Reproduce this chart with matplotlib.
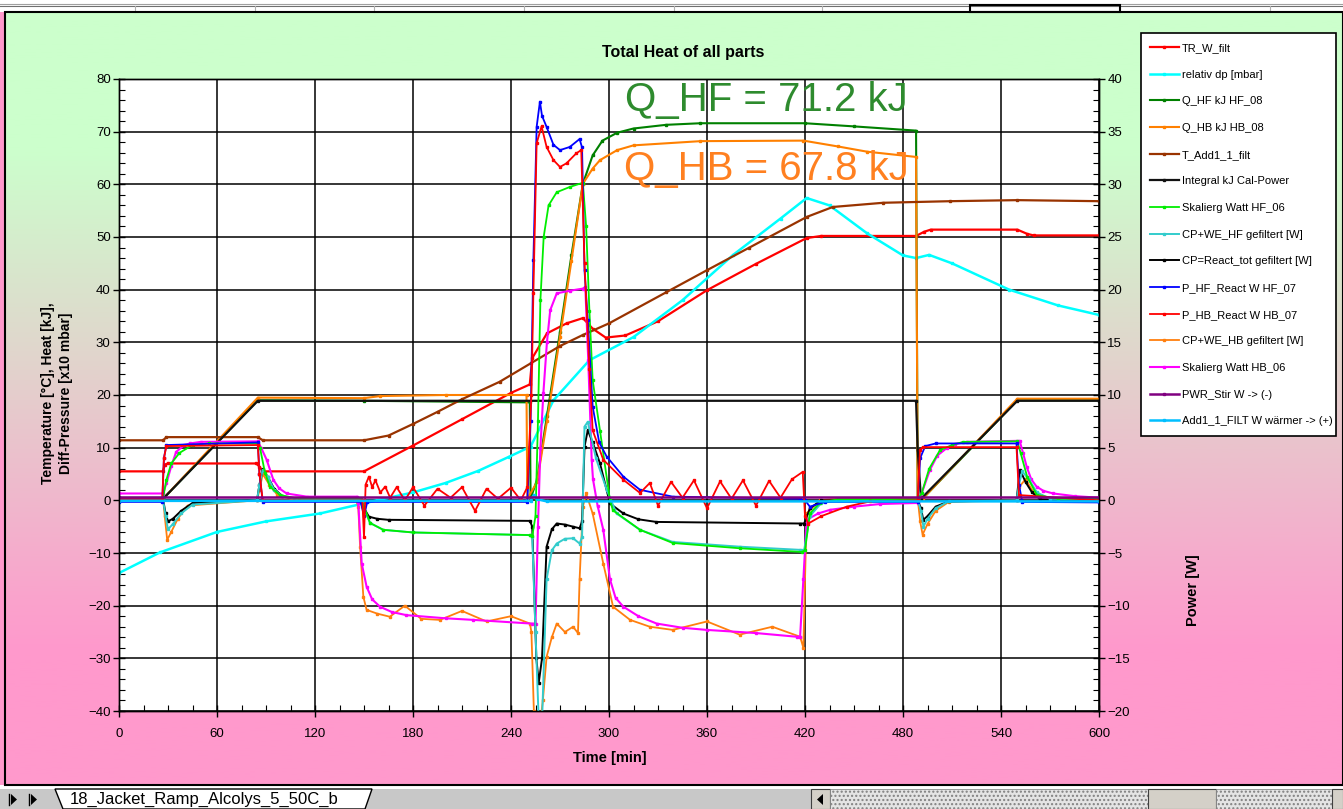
import numpy as np
import matplotlib.pyplot as plt
from matplotlib.patches import Rectangle, Polygon
from matplotlib.ticker import MultipleLocator

plt.rcParams['font.family'] = ['Liberation Sans', 'DejaVu Sans']

# ---- data: (time [min], value) ----
# left axis: temperature [C], heat [kJ], diff-pressure [x10 mbar]
tr_w_filt = [(0, 5.5), (27, 5.5), (28, 6.8), (30, 7.0), (84, 7.0), (86, 6.4), (88, 5.5), (150, 5.5),
             (180, 10.4), (210, 15.4), (240, 20.4), (251.5, 22.0), (253, 27.0), (262, 31.7), (274, 33.6),
             (284, 34.6), (290, 32.6), (298, 30.9), (310, 31.3), (330, 34.0), (360, 39.9), (390, 44.9),
             (421, 49.8), (430, 50.2), (488, 50.2), (493, 51.0), (497, 51.4), (550, 51.4), (556, 50.6),
             (560, 50.3), (600, 50.3)]
relativ_dp = [(0, -13.8), (25, -9.9), (60, -6.0), (90, -4.0), (123, -2.5), (158, 0.0), (180, 1.5),
              (200, 3.3), (220, 5.6), (239, 8.3), (252, 10.2), (266, 19.0), (288, 26.6), (315, 31.0),
              (345, 38.0), (376, 46.6), (405, 53.5), (421, 57.4), (435, 56.0), (458, 50.7), (480, 46.5),
              (488, 46.0), (496, 46.6), (510, 45.0), (545, 40.0), (575, 37.0), (600, 35.2)]
q_hf = [(0, 0.3), (27, 0.3), (85, 19.0), (150, 18.9), (251.5, 18.6), (252, 0.3), (256, 4), (262, 16),
        (270, 32), (277, 46.5), (284, 60.1), (290, 65.5), (296, 68.3), (305, 69.8), (315, 70.6),
        (335, 71.3), (356, 71.6), (420, 71.6), (450, 71.0), (488, 70.2), (489, 0.3), (492, 0.3),
        (550, 19.0), (600, 19.0)]
q_hb = [(0, 0.3), (27, 0.3), (85, 19.5), (150, 19.4), (160, 19.8), (200, 20.0), (249.5, 20.0), (250, 0.3),
        (256, 3.5), (262, 15), (270, 31), (277, 45.5), (284, 60.1), (290, 63.0), (294.5, 64.6),
        (305, 66.5), (315, 67.4), (356, 68.2), (419, 68.3), (440, 67.2), (458, 66.2), (488, 65.2),
        (489, 0.3), (492, 0.3), (550, 19.3), (600, 19.3)]
t_add1 = [(0, 11.4), (27, 11.4), (29, 12.0), (85, 12.0), (88, 11.4), (150, 11.4), (165, 12.3), (180, 14.5),
          (195, 16.8), (210, 19.2), (233, 22.5), (252, 26.0), (270, 29.3), (284, 31.4), (300, 33.6),
          (335, 39.5), (360, 43.7), (386, 48.0), (421, 53.8), (437, 55.7), (468, 56.5), (509, 56.8),
          (550, 57.0), (600, 56.8)]
integral_cal = [(0, 0.3), (27, 0.3), (85, 18.9), (488, 18.9), (489, 9.5), (491, 0.3), (550, 18.9), (600, 18.9)]

# right axis: power [W]
skal_hf = [(0, 0.25), (27, 0.25), (29, 1.95), (32, 3.5), (37, 4.5), (45, 5.25), (55, 5.4), (85, 5.4),
           (86.3, 5.0), (89.4, 2.6), (92.4, 1.3), (98.6, 0.5), (110, 0.15), (148, 0.15), (150, -0.6),
           (153.7, -2.15), (161.8, -2.8), (180, -3.05), (251.5, -3.3), (253, -3.4), (255, -1.5),
           (256.5, 7.5), (258, 19.0), (260, 25.0), (263, 28.0), (268, 29.25), (276, 29.75), (284, 30.15),
           (286, 26.0), (288, 18.0), (290, 11.4), (294.5, 6.6), (300.6, 0.0), (302.4, -0.95), (319, -2.8),
           (339, -4.05), (380, -4.55), (418, -4.9), (420, -4.75), (423, -1.25), (429, -0.25), (440, 0.1),
           (489, 0.1), (491.4, 0.65), (496, 3.0), (502.6, 4.75), (510, 5.25), (517, 5.55), (550, 5.6),
           (552, 4.5), (556, 2.25), (562, 0.5), (575, 0.15), (600, 0.15)]
cpwe_hf = [(0, 0), (27, 0), (28.5, -1.5), (30, -2.75), (33, -2.25), (38, -1.25), (45, -0.4), (84.5, 0),
           (86, 1.5), (88, 2.9), (91, 2.25), (95, 1.0), (100, 0.4), (110, 0.1), (148, 0.05), (149.5, -0.6),
           (153.7, -2.15), (161.8, -2.8), (180, -3.05), (251.6, -3.3), (253, -3.5), (255, -12.5),
           (257, -21), (259, -21), (261.8, -7.5), (265, -4.75), (268, -4.1), (273, -3.65), (278, -3.6),
           (282, -4.1), (283.5, -3.5), (285, 7.0), (287, 7.45), (292, 4.0), (298.6, 1.0), (304.6, -1.25),
           (319, -2.8), (339, -3.95), (380, -4.4), (417, -4.7), (419.5, -4.7), (423, -1.5), (430, -0.25),
           (440, 0), (489, 0), (491, -1.0), (492.5, -2.5), (495, -1.75), (500, -0.75), (508, -0.1),
           (549.5, 0), (551, 1.5), (553, 2.75), (557, 2.0), (562, 0.75), (570, 0.15), (600, 0.05)]
cp_react = [(0, 0.1), (27, 0.1), (28.5, -1.25), (30, -2.0), (33, -1.75), (38, -1.0), (45, -0.25), (84.5, 0),
            (86, 1.5), (88, 2.95), (91, 2.25), (95, 1.1), (100, 0.4), (110, 0.1), (148, 0.05), (149.5, -0.6),
            (153, -1.55), (158, -1.75), (165, -1.85), (251.6, -1.95), (253, -2.5), (255.5, -15.0),
            (257, -17.3), (259, -15.0), (261.8, -4.4), (265, -2.75), (268, -2.2), (273, -2.3), (278, -2.5),
            (282, -2.65), (283.5, -2.0), (285, 5.1), (287, 6.65), (290, 5.5), (294.5, 3.5), (300.6, -0.3),
            (308.8, -1.25), (318, -1.8), (329, -2.05), (417, -2.2), (419.5, -2.2), (423, -0.75), (430, 0),
            (489, 0), (491, -0.75), (492.4, -1.85), (495, -1.5), (500, -0.6), (508, -0.1), (549.5, 0),
            (551.6, 2.9), (555, 1.75), (559, 0.75), (564, 0.1), (600, 0.05)]
p_hf = [(0, -0.15), (26.5, -0.15), (27.5, 4.0), (29, 5.25), (85, 5.5), (86, 2.5), (88, -0.15), (148, -0.15),
        (150, -1.5), (152, -0.15), (250, -0.15), (252, 7.5), (253.7, 22.8), (255.7, 35.45), (257.7, 37.85),
        (259, 36.5), (261.8, 35.45), (266, 33.75), (270, 33.25), (276, 33.55), (282, 34.3), (283.5, 33.5),
        (285, 21.85), (287, 17.1), (290, 8.9), (294, 5.5), (298.6, 4.15), (308.8, 2.25), (319, 1.0),
        (339, 0.35), (417, 0.15), (420, 0), (423, -0.6), (432, -0.15), (489, -0.15), (490.5, 4.0),
        (493.6, 5.15), (500, 5.4), (549.5, 5.4), (551, 1.5), (553, -0.15), (600, -0.2)]
p_hb = [(0, 0.15), (26.5, 0.15), (27.5, 4.0), (29, 5.15), (85, 5.25), (86, 2.5), (88, 0), (149, 0),
        (150, -3.5), (151, 1.5), (153, 2.25), (155, 1.25), (157, 1.9), (160, 0.75), (163, 1.3), (166, 0.25),
        (170, 1.25), (175, 0), (180, 1.25), (187, -0.5), (195, 1.1), (203, 0.25), (210, 1.25), (218, -1.0),
        (225, 1.1), (232, 0.15), (240, 1.2), (246, 0), (250, 1.25), (252.5, 10.0), (253.7, 19.65),
        (255.7, 33.9), (258.7, 35.5), (261.8, 33.55), (266, 32.3), (270, 31.65), (274, 32.0), (280, 32.95),
        (283, 33.25), (285, 22.5), (288, 12.5), (290, 6.65), (296.5, 3.85), (308.8, 1.95), (319, 0.7),
        (325, 1.65), (330, -0.5), (338, 1.75), (345, 0.25), (352, 1.9), (360, -0.75), (368, 1.8),
        (375, 0.15), (382, 1.9), (390, -0.5), (398, 1.85), (405, 0.25), (412, 2.0), (418.6, 2.7),
        (420, -1.5), (422, -2.2), (430, -1.5), (445.5, -0.6), (460, -0.1), (489, 0), (490.4, 4.75),
        (492, 5.05), (549.5, 5.05), (551, 0.5), (600, 0)]
cpwe_hb = [(0, 0.15), (27, 0.15), (28, -1.5), (29.5, -3.75), (32, -3.0), (36, -1.75), (42, -0.5), (84.5, 0),
           (86, 1.0), (88, 2.5), (92, 1.5), (97, 0.5), (105, 0.15), (145, 0.1), (146.5, -0.6), (147.6, -4.4),
           (149.6, -9.15), (151.6, -10.4), (158, -10.75), (165.8, -11.05), (175, -10.0), (185, -11.25),
           (196.5, -11.35), (210, -10.5), (225, -11.5), (240, -11.0), (251.6, -11.7), (252.5, -12.5),
           (254, -20.0), (256, -21.0), (258, -21.0), (259.5, -19.0), (261.8, -14.85), (265, -13.0),
           (268, -11.7), (273, -12.5), (278, -12.0), (281, -12.6), (282, -7.5), (284, -0.6), (286, 0.65),
           (290, -1.25), (296.5, -6.0), (302.5, -10.1), (312.9, -11.35), (325, -12.0), (339, -12.3),
           (360, -11.5), (380, -12.75), (400, -12.0), (417, -12.95), (419, -14.0), (421, -1.25), (429, 0),
           (440, 0.15), (489, 0.15), (490.5, -2.0), (492, -3.25), (495, -2.25), (500, -1.0), (508, -0.15),
           (549.5, 0), (551, 1.25), (555, 2.0), (560, 0.75), (570, 0.15), (600, 0.1)]
skal_hb = [(0, 0.65), (27, 0.65), (29, 1.6), (32, 3.25), (35, 4.6), (40, 5.25), (43.5, 5.4), (50, 5.55),
           (85, 5.6), (87, 5.0), (90.4, 3.85), (94.5, 1.95), (98, 1.15), (102.6, 0.65), (115, 0.35),
           (146, 0.35), (146.5, -0.25), (148.6, -6.0), (151.6, -8.2), (155, -9.4), (159.8, -10.1),
           (167, -10.6), (176, -10.9), (200, -11.2), (217, -11.35), (252.6, -11.7), (255, -11.7),
           (256.5, -2.5), (258, 5.0), (259.8, 10.15), (262, 15.0), (264, 18.05), (268, 19.65), (276, 19.9),
           (284, 20.1), (285.5, 20.25), (287.3, 13.3), (289.4, 3.85), (290.2, 2.0), (293, -0.5),
           (296.5, -2.8), (300.6, -7.5), (304, -9.25), (308.8, -10.1), (318, -11.0), (329.2, -11.7),
           (345, -12.1), (359.8, -12.3), (390, -12.6), (414.9, -12.95), (417, -12.95), (419, -7.5),
           (421, -1.85), (428, -1.25), (435.4, -0.9), (450, -0.6), (466, -0.35), (489, -0.25), (491.4, 0.65),
           (496.5, 2.9), (501, 4.25), (506.7, 4.95), (512, 5.35), (519, 5.55), (551.4, 5.65), (553.5, 4.5),
           (555.7, 3.2), (558.5, 2.0), (561.8, 1.3), (566, 0.9), (572, 0.65), (585, 0.4), (600, 0.25)]
pwr_stir = [(0, 0.3), (600, 0.3)]
add1_filt = [(0, -0.05), (252, -0.05), (254, 0.5), (256, 0.1), (262, -0.1), (600, -0.1)]

W, H = 1343, 809


def fx(x):
    return x / W


def fy(y):
    return 1 - y / H


fig = plt.figure(figsize=(W / 100, H / 100), dpi=100)
fig.patch.set_facecolor('white')

# ---- window chrome / gradient background in pixel coordinates ----
bg = fig.add_axes([0, 0, 1, 1], zorder=-10)
green = np.array([204, 255, 204]) / 255
pink = np.array([255, 153, 204]) / 255
rows = np.linspace(12, 785, 300)
frac = np.clip((rows - 150) / 500, 0, 1)
grad = green[None, :] * (1 - frac[:, None]) + pink[None, :] * frac[:, None]
bg.imshow(grad[:, None, :], extent=[5, W, 785, 12], aspect='auto', zorder=0)
bg.set_xlim(0, W)
bg.set_ylim(H, 0)
bg.axis('off')

bg.add_patch(Rectangle((0, 0), W, 12, fc='white', ec='none', zorder=1))
bg.plot([0, W], [4, 4], color='#a0a0a0', lw=0.8, zorder=2)
bg.plot([0, W], [6, 6], color='#707070', lw=0.8, zorder=2)
for xs in [135, 255, 374, 524, 674, 822, 1270]:
    bg.plot([xs, xs], [6, 12], color='#b0b0b0', lw=0.8, zorder=2)
bg.add_patch(Rectangle((970, 5), 150, 7, fill=False, ec='black', lw=1.5, zorder=3))
bg.add_patch(Rectangle((0, 12), 5, 775, fc=pink, ec='none', zorder=1))
bg.add_patch(Rectangle((5, 12), W - 5, 773, fill=False, ec='black', lw=1.5, zorder=3))

# sheet tab bar
bg.add_patch(Rectangle((0, 785), W, 4, fc='white', ec='none', zorder=1))
bg.add_patch(Rectangle((0, 789), W, 20, fc='#c8c8c8', ec='none', zorder=1))
for x0 in [6, 26]:
    bg.add_patch(Polygon([(x0 + 5, 794), (x0 + 5, 805), (x0 + 11, 799.5)], fc='black', zorder=2))
    bg.plot([x0 + 3, x0 + 3], [794, 805], color='black', lw=1, zorder=2)
bg.add_patch(Polygon([(55, 789), (372, 789), (365, 809), (63, 809)], fc='white', ec='black', lw=1, zorder=2))
bg.text(70, 799.5, '18_Jacket_Ramp_Alcolys_5_50C_b', fontsize=12, va='center', ha='left', zorder=3)
bg.add_patch(Rectangle((811, 789), 19, 20, fc='#d4d0c8', ec='#404040', lw=0.8, zorder=2))
bg.add_patch(Polygon([(823, 794), (823, 805), (817, 799.5)], fc='black', zorder=3))
bg.add_patch(Rectangle((830, 789), 318, 20, fc='#e4e4e4', ec='#808080', hatch='....', lw=0.5, zorder=2))
bg.add_patch(Rectangle((1148, 789), 68, 20, fc='#d4d0c8', ec='#404040', lw=0.8, zorder=2))
bg.add_patch(Rectangle((1216, 789), 116, 20, fc='#e4e4e4', ec='#808080', hatch='....', lw=0.5, zorder=2))
bg.add_patch(Rectangle((1332, 789), 11, 20, fc='#d4d0c8', ec='#404040', lw=0.8, zorder=2))

# legend frame
bg.add_patch(Rectangle((1141, 33), 195, 403, fc='white', ec='black', lw=1.2, zorder=4))

# ---- plot area ----
ax = fig.add_axes([fx(119), fy(711), 980 / W, 632 / H])
ax.set_xlim(0, 600)
ax.set_ylim(-40, 80)
ax.xaxis.set_major_locator(MultipleLocator(60))
ax.xaxis.set_minor_locator(MultipleLocator(15))
ax.yaxis.set_major_locator(MultipleLocator(10))
ax.yaxis.set_minor_locator(MultipleLocator(2))
ax.grid(True, which='major', color='black', lw=1.1)
ax.set_axisbelow(True)

ax2 = ax.twinx()
ax2.set_ylim(-20, 40)
ax2.yaxis.set_major_locator(MultipleLocator(5))
ax2.yaxis.set_minor_locator(MultipleLocator(1))

for a in (ax, ax2):
    a.tick_params(which='major', direction='inout', length=8, width=1, labelsize=9.5, pad=2)
    a.tick_params(which='minor', direction='in', length=4, width=0.8)
    for s in a.spines.values():
        s.set_color('black')
        s.set_linewidth(1)
ax.tick_params(axis='x', pad=8)


def draw(axis, pts, color, label, z=2, lw=1.3):
    t, v = zip(*pts)
    return axis.plot(t, v, color=color, lw=lw, marker='s', ms=1.6, label=label, zorder=z)[0]


h_tr = draw(ax, tr_w_filt, '#ff0000', 'TR_W_filt', lw=1.6)
h_dp = draw(ax, relativ_dp, '#00ffff', 'relativ dp [mbar]', lw=1.8)
h_qhf = draw(ax, q_hf, '#008000', 'Q_HF kJ HF_08', lw=1.5)
h_qhb = draw(ax, q_hb, '#ff8000', 'Q_HB kJ HB_08', lw=1.5)
h_tadd = draw(ax, t_add1, '#993300', 'T_Add1_1_filt', lw=1.6)
h_int = draw(ax, integral_cal, '#111111', 'Integral kJ Cal-Power', lw=1.6)

h_cpwehb = draw(ax2, cpwe_hb, '#ff7f0e', 'CP+WE_HB gefiltert [W]')
h_skhb = draw(ax2, skal_hb, '#ff00ff', 'Skalierg Watt HB_06', lw=1.5)
h_cp = draw(ax2, cp_react, '#000000', 'CP=React_tot gefiltert [W]', lw=1.4)
h_cpwehf = draw(ax2, cpwe_hf, '#33cccc', 'CP+WE_HF gefiltert [W]', lw=1.4)
h_skhf = draw(ax2, skal_hf, '#00ee00', 'Skalierg Watt HF_06')
h_phf = draw(ax2, p_hf, '#0000ff', 'P_HF_React W HF_07')
h_phb = draw(ax2, p_hb, '#ff0000', 'P_HB_React W HB_07')
h_add = draw(ax2, add1_filt, '#00bfff', 'Add1_1_FILT W wärmer -> (+)', lw=1.8)
h_stir = draw(ax2, pwr_stir, '#800080', 'PWR_Stir W -> (-)', lw=1.8)

handles = [h_tr, h_dp, h_qhf, h_qhb, h_tadd, h_int, h_skhf, h_cpwehf, h_cp, h_phf, h_phb,
           h_cpwehb, h_skhb, h_stir, h_add]
fig.legend(handles, [h.get_label() for h in handles], loc='upper left',
           bbox_to_anchor=(fx(1150), fy(43)), frameon=False, fontsize=8, numpoints=1,
           handlelength=2.6, handletextpad=0.3, labelspacing=1.5, borderaxespad=0, borderpad=0)

ax.text(310, 76, 'Q_HF = 71.2 kJ', color='#2e8b2e', fontsize=29, va='center', ha='left', zorder=5)
ax.text(309, 63, 'Q_HB = 67.8 kJ', color='#ff8020', fontsize=29, va='center', ha='left', zorder=5)

fig.text(fx(683), fy(53), 'Total Heat of all parts', fontsize=11.5, fontweight='bold', ha='center', va='center')
fig.text(fx(610), fy(758), 'Time [min]', fontsize=10.5, fontweight='bold', ha='center', va='center')
fig.text(fx(57), fy(393), 'Temperature [°C], Heat [kJ],\nDiff-Pressure [x10 mbar]', fontsize=10,
         fontweight='bold', rotation=90, ha='center', va='center', linespacing=1.4)
fig.text(fx(1193), fy(590), 'Power [W]', fontsize=10.5, fontweight='bold', rotation=90, ha='center', va='center')

fig.savefig('out.png', dpi=100)
